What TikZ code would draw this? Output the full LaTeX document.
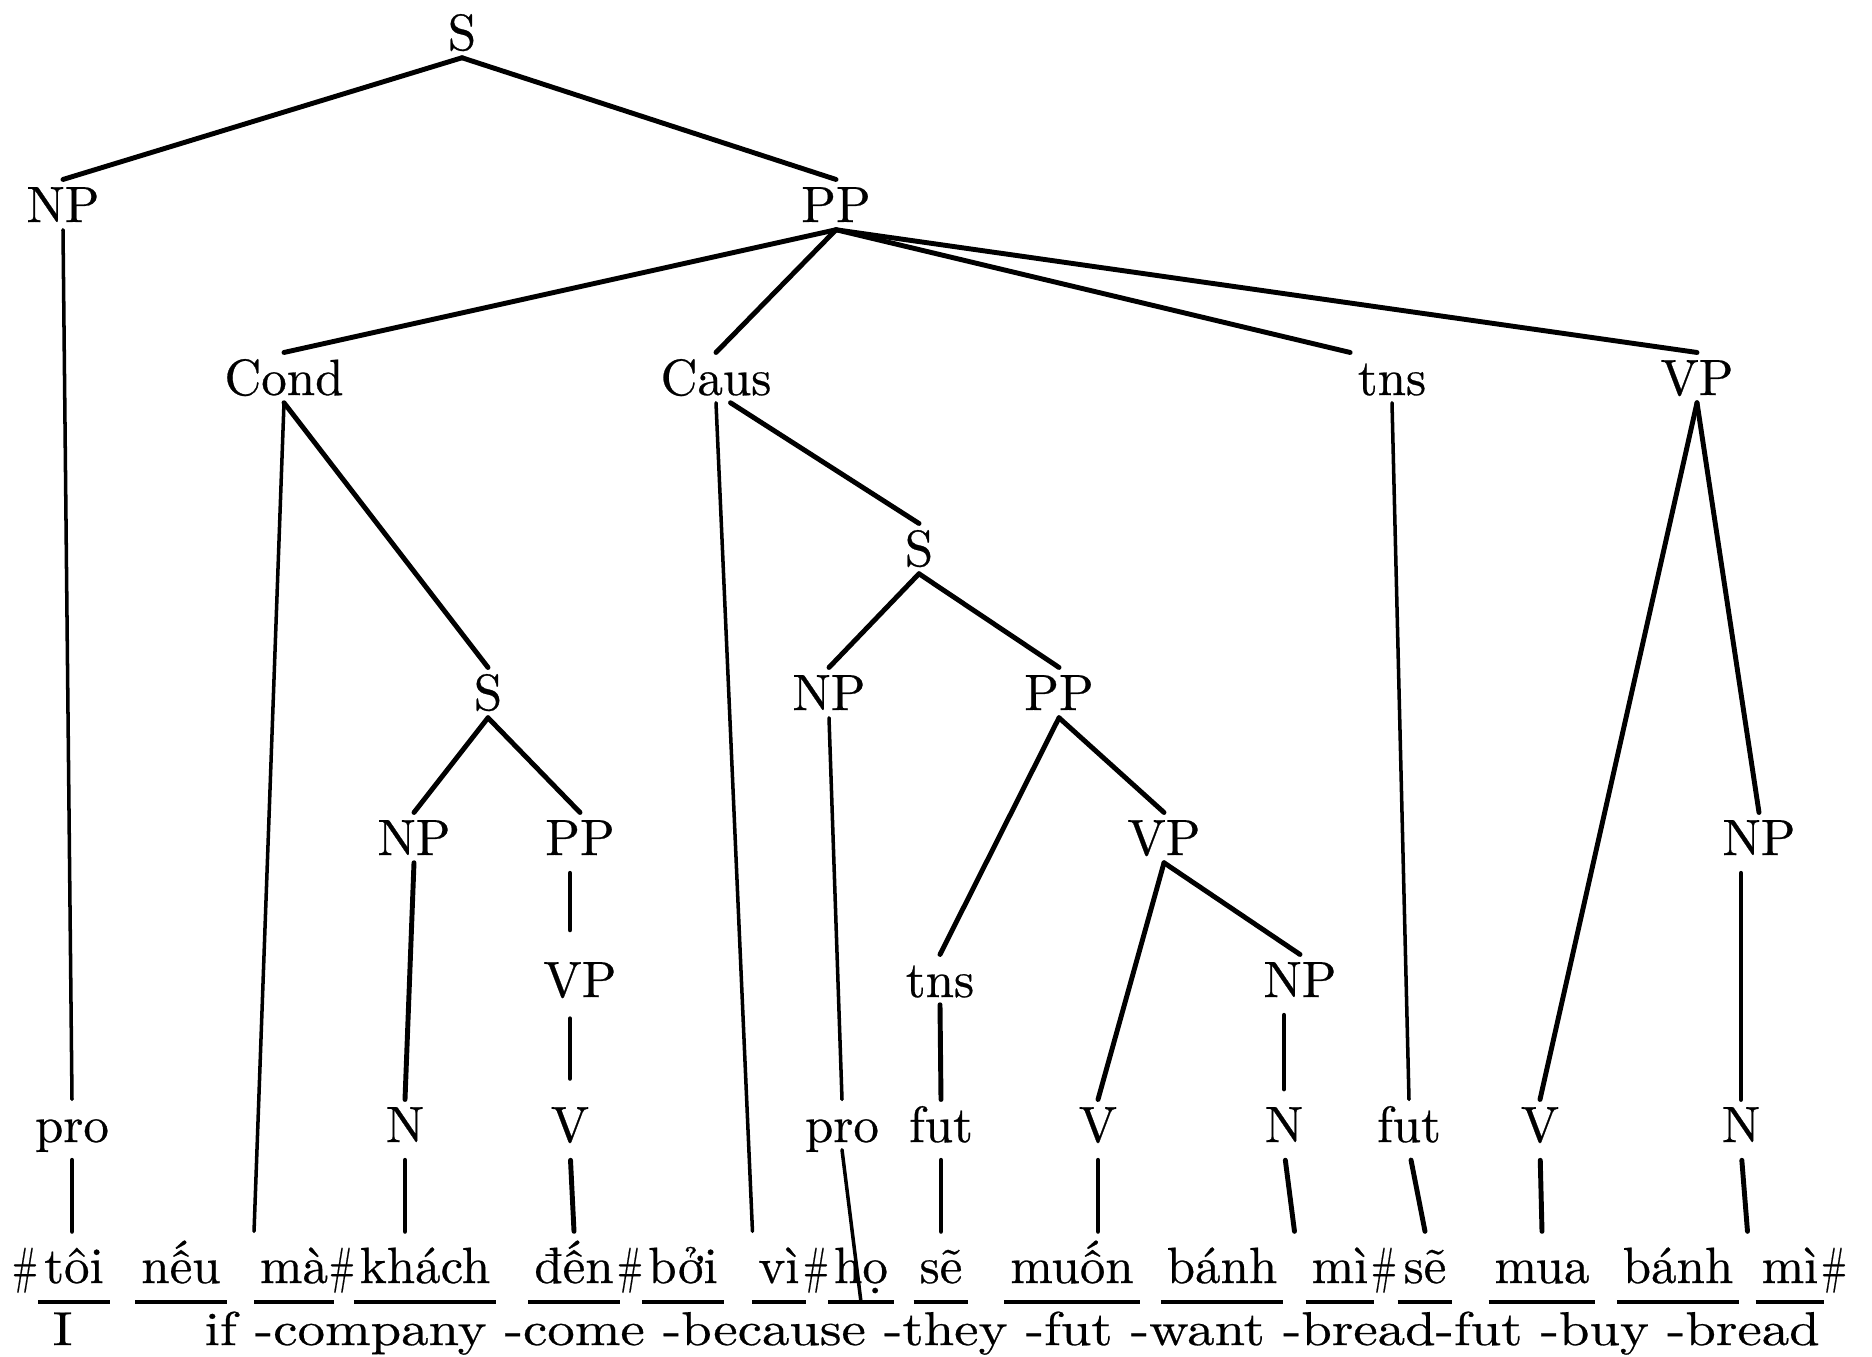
\documentclass[tikz,border=0pt]{standalone}
\usepackage{fontspec}
\usetikzlibrary{calc}
\newfontfamily\lmtree{lmroman10-regular.otf}[FakeBold=0.5]
\newfontfamily\lmgloss{lmroman10-regular.otf}[FakeBold=0.5, FakeStretch=1.155]
\tikzset{cat/.style={anchor=base, inner xsep=2pt, inner ysep=2pt, text height=9.9pt, text depth=0pt}}
\tikzset{wd/.style={anchor=base, inner xsep=1.5pt, inner ysep=0pt, text height=14.5pt, text depth=5.2pt}}
\tikzset{gls/.style={anchor=base west, inner sep=0pt, font=\lmgloss\fontsize{13.5}{16}\selectfont}}
\tikzset{arco/.style={line width=1.4pt, line cap=round}}
\tikzset{arcof/.style={line width=1pt, line cap=round}}
\tikzset{short/.style={shorten <=3pt}}
\tikzset{uline/.style={line width=1pt}}
\newcommand{\hsh}{\scalebox{.6}[1]{\#}}

\begin{document}
\begin{tikzpicture}[
                x = 0.01cm, y = -0.01cm,
                every node/.style={font=\lmtree\fontsize{14.5}{17}\selectfont}
            ]
                \useasboundingbox (0,0) rectangle (1872,1356);

                % categories
                \node[cat] (S0) at (462,50) {S};
                \node[cat] (NP1) at (63,222) {NP};
                \node[cat] (PP1) at (836,222) {PP};
                \node[cat] (Cond) at (284,395) {Cond};
                \node[cat] (Caus) at (716,395) {Caus};
                \node[cat] (tns1) at (1392,395) {tns};
                \node[cat] (VP1) at (1697,395) {VP};
                \node[cat] (S1) at (919,566) {S};
                \node[cat] (S2) at (488,710) {S};
                \node[cat] (NP2) at (829,710) {NP};
                \node[cat] (PP2) at (1059,710) {PP};
                \node[cat] (NP3) at (414,855) {NP};
                \node[cat] (PP3) at (580,855) {PP};
                \node[cat] (VP2) at (1164,855) {VP};
                \node[cat] (NP4) at (1759,855) {NP};
                \node[cat] (VP3) at (580,997) {VP};
                \node[cat] (tns2) at (940,997) {tns};
                \node[cat] (NP5) at (1300,997) {NP};
                \node[cat] (pro1) at (72,1142) {pro};
                \node[cat] (N1) at (405,1142) {N};
                \node[cat] (V1) at (570,1142) {V};
                \node[cat] (pro2) at (842,1142) {pro};
                \node[cat] (fut1) at (941,1142) {fut};
                \node[cat] (V2) at (1098,1142) {V};
                \node[cat] (N2) at (1284,1142) {N};
                \node[cat] (fut2) at (1409,1142) {fut};
                \node[cat] (V3) at (1540,1142) {V};
                \node[cat] (N3) at (1741,1142) {N};

                % words
                \node[wd] (h1) at (25,1283) {\hsh};
                \node[wd] (toi) at (74,1283) {tôi};
                \node[wd] (neu) at (181,1283) {nếu};
                \node[wd] (ma) at (294,1283) {mà};
                \node[wd] (h2) at (342,1283) {\hsh};
                \node[wd] (khach) at (425,1283) {khách};
                \node[wd] (den) at (574,1283) {đến};
                \node[wd] (h3) at (630,1283) {\hsh};
                \node[wd] (boi) at (683,1283) {bởi};
                \node[wd] (vi) at (779,1283) {vì};
                \node[wd] (h4) at (816,1283) {\hsh};
                \node[wd] (ho) at (861,1283) {họ};
                \node[wd] (se) at (941,1283) {sẽ};
                \node[wd] (muon) at (1072,1283) {muốn};
                \node[wd] (banh) at (1222,1283) {bánh};
                \node[wd] (mi) at (1340,1283) {mì};
                \node[wd] (h5) at (1384,1283) {\hsh};
                \node[wd] (se2) at (1425,1283) {sẽ};
                \node[wd] (mua) at (1542,1283) {mua};
                \node[wd] (banh2) at (1678,1283) {bánh};
                \node[wd] (mi2) at (1790,1283) {mì};
                \node[wd] (h6) at (1834,1283) {\hsh};

                % gloss
                \node[gls] (gI) at (52,1345) {I};
                \node[gls] (gl) at (204,1345) {if -company -come -because -they -fut -want -bread-fut -buy -bread};

                \foreach \w in {toi,neu,ma,khach,den,boi,vi,ho,se,muon,banh,mi,se2,mua,banh2,mi2}
                    \draw[uline] (\w.south west) -- (\w.south east);

                % tree
                \draw[arco] (S0.south) -- (NP1.north);
                \draw[arco] (S0.south) -- (PP1.north);
                \draw[arcof] (NP1.south) -- (pro1.north);
                \draw[arco] (PP1.south) -- (Cond.north);
                \draw[arco] (PP1.south) -- (Caus.north);
                \draw[arco] (PP1.south) -- (tns1.north west);
                \draw[arco] (PP1.south) -- (VP1.north);
                \draw[arcof] (Cond.south) -- (ma.north west);
                \draw[arco] (Cond.south) -- (S2.north);
                \draw[arcof] (Caus.south) -- (vi.north west);
                \draw[arco] (Caus.-60) -- (S1.north);
                \draw[arcof] (tns1.south) -- (fut2.north);
                \draw[arco] (VP1.south) -- (V3.north);
                \draw[arco] (VP1.south) -- (NP4.north);
                \draw[arco] (S1.south) -- (NP2.north);
                \draw[arco] (S1.south) -- (PP2.north);
                \draw[arco] (S2.south) -- (NP3.north);
                \draw[arco] (S2.south) -- (PP3.north);
                \draw[arcof] (NP2.south) -- (pro2.north);
                \draw[arco] (PP2.south) -- (tns2.north);
                \draw[arco] (PP2.south) -- (VP2.north);
                \draw[arco] (NP3.south) -- (N1.north);
                \draw[arco, shorten <=3pt, shorten >=7pt] (V1 |- PP3.south) -- (V1 |- VP3.north);
                \draw[arco, shorten <=4pt, shorten >=6pt] (V1 |- VP3.south) -- (V1.north);
                \draw[arco] (VP2.south) -- (V2.north);
                \draw[arco] (VP2.south) -- (NP5.north);
                \draw[arco] (tns2.south) -- (fut1.north);
                \draw[arco, short, shorten >=3pt] (N2 |- NP5.south) -- (N2.north);
                \draw[arco, short] (N3 |- NP4.south) -- (N3.north);

                % down to the words
                \draw[arco, short] (pro1.south) -- (pro1 |- toi.north);
                \draw[arco, short] (N1.south) -- (N1 |- khach.north);
                \draw[arco, short] (V1.south) -- (den.north);
                \draw[arcof] (pro2.south) -- (ho.south);
                \draw[arco, short] (fut1.south) -- (se.north);
                \draw[arco, short] (V2.south) -- (V2 |- muon.north);
                \draw[arco, short] (N2.south) -- ($(banh.north east)!.5!(mi.north west)$);
                \draw[arco, short] (fut2.south) -- (se2.north);
                \draw[arco, short] (V3.south) -- (mua.north);
                \draw[arco, short] (N3.south) -- ($(banh2.north east)!.5!(mi2.north west)$);
            \end{tikzpicture}
\end{document}
